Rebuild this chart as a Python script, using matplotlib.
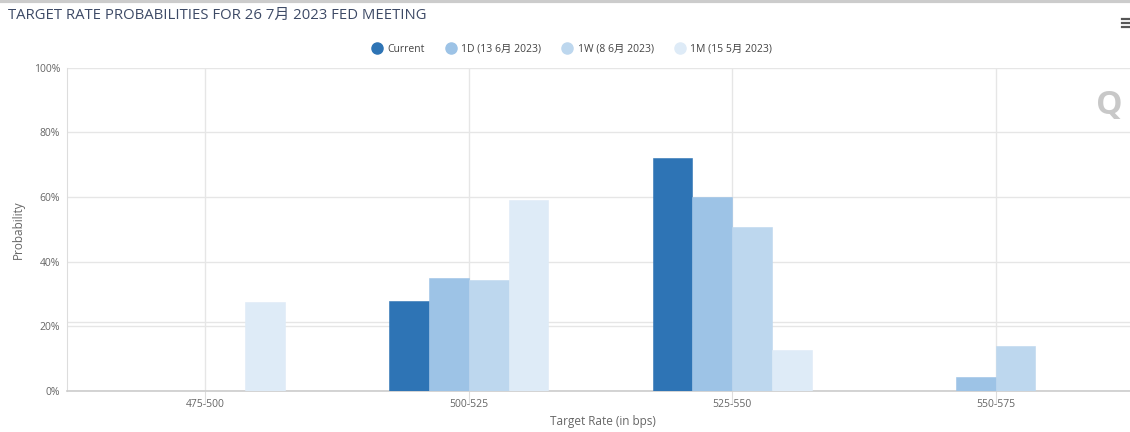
import numpy as np
import matplotlib.pyplot as plt

# Target rate probabilities, 26 Jul 2023 FOMC meeting
categories = ['475-500', '500-525', '525-550', '550-575']
series_names = ['Current', '1D (13 6月 2023)', '1W (8 6月 2023)', '1M (15 5月 2023)']
current = [0.0, 27.9, 72.1, 0.0]
one_day = [0.0, 34.9, 59.9, 4.3]
one_week = [0.0, 34.3, 50.6, 13.9]
one_month = [27.4, 59.0, 12.8, 0.0]
yticks = [0, 20, 40, 60, 80, 100]
band_line = 21.4   # faint extra line seen just above 20%

colors = ['#2e74b5', '#9dc3e6', '#bdd7ee', '#deebf7']
plt.rcParams['font.family'] = ['Open Sans', 'Noto Sans CJK SC', 'DejaVu Sans']

fig = plt.figure(figsize=(11.3, 4.32), dpi=100)
ax = fig.add_axes([67 / 1130, 41 / 432, 1063 / 1130, 323.5 / 432])

x = np.arange(len(categories))
w = 0.151
all_series = [current, one_day, one_week, one_month]
for i, (vals, name, col) in enumerate(zip(all_series, series_names, colors)):
    ax.bar(x + (i - 1.5) * w, vals, width=w, color=col, edgecolor=col,
           linewidth=0.4, label=name, zorder=3)

ax.set_xlim(-0.525, 3.51)
ax.set_ylim(0, 100)
ax.set_yticks(yticks)
ax.set_yticklabels([f'{v}%' for v in yticks], fontsize=7.5, color='#666666')
ax.set_xticks(x)
ax.set_xticklabels(categories, fontsize=7.5, color='#666666')
ax.tick_params(axis='y', length=0, pad=5)
ax.tick_params(axis='x', length=9, color='#dddddd', pad=-3)

ax.grid(True, color='#e6e6e6', linewidth=1, zorder=0)
ax.axhline(band_line, color='#e6e6e6', linewidth=1, zorder=0)
for s in ['top', 'right']:
    ax.spines[s].set_visible(False)
ax.spines['left'].set_color('#dddddd')
ax.spines['bottom'].set_color('#cccccc')
ax.spines['bottom'].set_linewidth(1.2)

ax.set_ylabel('Probability', fontsize=8.5, color='#666666', labelpad=6)
fig.text(603 / 1130, 1 - 421 / 432, 'Target Rate (in bps)', fontsize=8.5,
         color='#666666', ha='center', va='center')

# legend with round markers
handles = [plt.Line2D([], [], marker='o', linestyle='', markersize=8,
                      markerfacecolor=c, markeredgecolor=c) for c in colors]
fig.legend(handles, series_names, loc='center', bbox_to_anchor=(0.506, 0.886),
           ncol=4, frameon=False, fontsize=7.5, handlelength=1.0,
           columnspacing=2.0, handletextpad=0.5, labelcolor='#444444')

fig.text(0.007, 0.965, 'TARGET RATE PROBABILITIES FOR 26 7月 2023 FED MEETING',
         fontsize=10.7, color='#3d4a66', ha='left', va='center')

# top border and menu icon
fig.add_artist(plt.Line2D([0, 1], [0.997, 0.997], color='#cccccc', linewidth=3))
for yy in [0.955, 0.946, 0.937]:
    fig.add_artist(plt.Line2D([0.9925, 1.0], [yy, yy], color='#555555', linewidth=1.6))

# watermark
fig.text(0.982, 0.755, 'Q', fontsize=24, fontweight='bold', color='#c8c8c8',
         ha='center', va='center')

fig.savefig('out.png', dpi=100)
